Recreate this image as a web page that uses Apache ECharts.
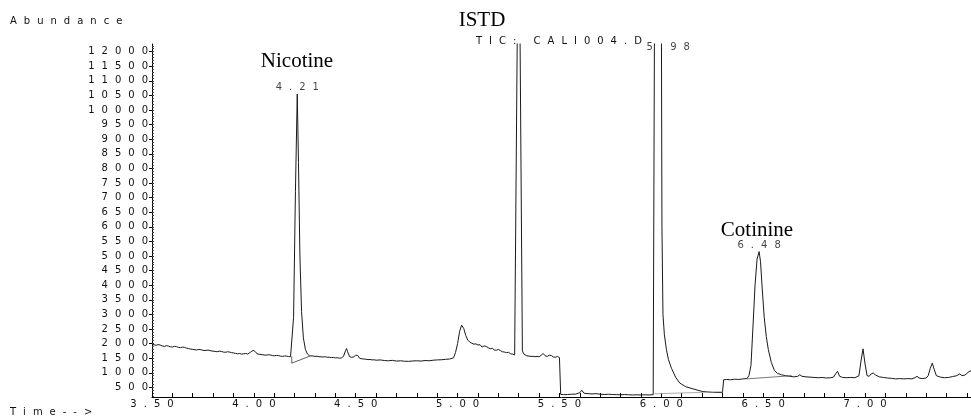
<!DOCTYPE html>
<html>
<head>
<meta charset="utf-8" />
<title>TIC: CALI004.D</title>
<script src="https://cdn.jsdelivr.net/npm/echarts@6/dist/echarts.min.js"></script>
<style>
  html, body { margin: 0; padding: 0; background: #fff; }
  #chart { width: 971px; height: 417px; }
</style>
</head>
<body>
<div id="chart"></div>
<script type="text/javascript">
// axis ranges and labels
var timeMin = 3.5, timeMax = 7.52;
var abundanceMin = 170, abundanceMax = 12260;
var timeLabels = [3.5, 4.0, 4.5, 5.0, 5.5, 6.0, 6.5, 7.0];
var abundanceLabels = [500, 1000, 1500, 2000, 2500, 3000, 3500, 4000, 4500, 5000, 5500, 6000,
  6500, 7000, 7500, 8000, 8500, 9000, 9500, 10000, 10500, 11000, 11500, 12000];

// TIC trace, [retention time (min), abundance]
var baselineEarly = [[3.50,1980],[3.51,1960],[3.52,1940],[3.53,1965],[3.54,1950],[3.55,1920],[3.56,1900],
  [3.57,1930],[3.58,1915],[3.59,1890],[3.60,1880],[3.61,1905],[3.62,1895],[3.63,1870],[3.64,1860],
  [3.65,1880],[3.66,1870],[3.67,1840],[3.68,1830],[3.69,1810],[3.70,1800],[3.71,1790],[3.72,1780],
  [3.73,1800],[3.74,1790],[3.75,1770],[3.76,1760],[3.77,1775],[3.78,1770],[3.79,1750],[3.80,1740],
  [3.81,1730],[3.82,1720],[3.83,1740],[3.84,1730],[3.85,1710],[3.86,1700],[3.87,1720],[3.88,1710],
  [3.89,1690],[3.90,1680],[3.91,1665],[3.92,1650],[3.93,1660],[3.94,1640],[3.95,1650],[3.96,1660],
  [3.97,1640],[3.98,1690],[3.99,1740],[4.00,1770],[4.01,1690],[4.02,1640],[4.03,1630],[4.04,1620],
  [4.05,1610],[4.06,1600],[4.07,1620],[4.08,1610],[4.09,1590],[4.10,1580],[4.11,1595],[4.12,1590],
  [4.13,1570],[4.14,1560],[4.15,1575],[4.16,1570],[4.17,1555],[4.18,1550]];
var nicotinePeak = [[4.186,1560],[4.195,2900],[4.204,7200],[4.213,10550],[4.219,8200],[4.226,5000],
  [4.234,3100],[4.243,2200],[4.253,1800],[4.263,1640],[4.273,1580]];
var baselineMid = [[4.28,1570],[4.29,1575],[4.30,1560],[4.31,1565],[4.32,1550],[4.33,1545],[4.34,1540],
  [4.35,1550],[4.36,1530],[4.37,1535],[4.38,1520],[4.39,1525],[4.40,1510],[4.41,1515],[4.42,1500],
  [4.43,1510],[4.44,1560],[4.45,1760],[4.455,1830],[4.46,1720],[4.47,1550],[4.48,1530],[4.49,1540],
  [4.50,1600],[4.505,1640],[4.51,1590],[4.52,1490],[4.53,1480],[4.54,1470],[4.55,1465],[4.56,1450],
  [4.57,1455],[4.58,1440],[4.59,1445],[4.60,1430],[4.62,1440],[4.64,1420],[4.66,1410],[4.68,1425],
  [4.70,1400],[4.72,1410],[4.74,1395],[4.76,1390],[4.78,1405],[4.80,1410],[4.82,1400],[4.84,1420],
  [4.86,1410],[4.88,1430],[4.90,1440],[4.92,1445],[4.94,1460],[4.96,1470],[4.98,1510],[4.99,1700],
  [5.00,2000],[5.01,2420],[5.02,2630],[5.03,2520],[5.04,2280],[5.05,2120],[5.06,2050],[5.07,2010],
  [5.08,1980],[5.09,1990],[5.10,1950],[5.11,1960],[5.12,1880],[5.13,1920],[5.14,1900],[5.15,1860],
  [5.16,1820],[5.17,1840],[5.18,1780],[5.19,1770],[5.20,1800],[5.21,1760],[5.22,1720],[5.23,1710],
  [5.24,1690],[5.25,1700],[5.26,1650],[5.27,1640],[5.28,1610]];
var istdPeak = [[5.283,1620],[5.300,18600],[5.318,1750],[5.325,1640]];
var baselineLate = [[5.33,1600],[5.34,1580],[5.35,1570],[5.36,1560],[5.37,1565],[5.38,1550],[5.39,1560],
  [5.40,1545],[5.41,1600],[5.42,1660],[5.43,1580],[5.44,1560],[5.45,1600],[5.46,1590],[5.47,1540],
  [5.48,1530],[5.49,1560],[5.50,1520],[5.504,1500],[5.506,260],[5.52,250],[5.54,255],[5.56,265],
  [5.58,270],[5.60,320],[5.61,400],[5.62,300],[5.64,285],[5.66,275],[5.68,285],[5.70,265],[5.72,255],
  [5.74,265],[5.76,255],[5.78,250],[5.80,245],[5.82,255],[5.84,245],[5.86,240],[5.88,245],[5.90,240],
  [5.92,245],[5.94,240],[5.96,250]];
var peak598 = [[5.964,260],[5.975,30000],[6.000,14000],[6.003,6000],[6.008,3000],[6.015,2300],
  [6.025,1800],[6.035,1450],[6.05,1150],[6.07,850],[6.09,650],[6.12,520],[6.16,440],[6.20,360],
  [6.25,330],[6.30,320],[6.304,320]];
var cotinineRegion = [[6.306,760],[6.32,770],[6.34,760],[6.36,780],[6.38,770],[6.40,790],[6.42,800],
  [6.43,900],[6.44,1250],[6.45,2600],[6.46,4000],[6.47,4900],[6.48,5150],[6.487,4800],[6.495,3900],
  [6.505,2900],[6.515,2250],[6.525,1800],[6.54,1350],[6.555,1080],[6.57,980],[6.59,930],[6.61,900],
  [6.63,880],[6.65,860],[6.67,880],[6.68,930],[6.69,880],[6.71,860],[6.73,850],[6.75,840],[6.77,830],
  [6.79,840],[6.81,820],[6.83,830],[6.845,850],[6.855,960],[6.865,1050],[6.875,880],[6.89,840],
  [6.91,830],[6.93,840],[6.95,830],[6.97,900],[6.98,1400],[6.99,1820],[7.00,1300],[7.01,900],
  [7.02,880],[7.03,960],[7.04,990],[7.05,930],[7.07,860],[7.09,840],[7.11,820],[7.13,810],[7.15,790],
  [7.17,800],[7.19,790],[7.21,800],[7.23,790],[7.245,830],[7.255,880],[7.265,820],[7.28,800],
  [7.30,820],[7.31,900],[7.32,1150],[7.33,1330],[7.34,1100],[7.35,900],[7.37,850],[7.39,830],
  [7.41,840],[7.43,870],[7.45,900],[7.465,960],[7.475,900],[7.49,920],[7.50,980],[7.51,1040],[7.52,1070]];

// integration baselines drawn by the data system
var nicotineBase = [[4.186,1560],[4.186,1330],[4.275,1570]];
var peak598Base = [[5.966,280],[6.30,350]];
var cotinineBase = [[6.42,790],[6.64,900]];

// peak retention time tags
var peakTimes = [4.213, 5.975, 6.48];
var peakTags = ['4.21', '5.98', '6.48'];
var peakTops = [10550, 12260, 5150];

// the printout uses a wide, letter-spaced plotter font
function spaced(s) {
  return String(s).split('').join('\u2002\u2009');
}

var ticTrace = [].concat(baselineEarly, nicotinePeak, baselineMid, istdPeak, baselineLate, peak598, cotinineRegion);

var timeTicks = [];
for (var i = 0; i <= 40; i++) timeTicks.push(Math.round((3.5 + i * 0.1) * 10) / 10);
var minorAbundanceTicks = [];
for (var v = 200; v <= 12200; v += 100) minorAbundanceTicks.push(v);

var smallFont = 'DejaVu Sans';
var serifFont = 'Liberation Serif';
var smallSize = 10;
var textColor = '#111';

var chart = echarts.init(document.getElementById('chart'));
var option = {
  animation: false,
  backgroundColor: '#fff',
  grid: { left: 152, right: 0, top: 44, bottom: 20 },
  xAxis: {
    type: 'value',
    min: timeMin,
    max: timeMax,
    axisLine: { lineStyle: { color: '#000', width: 1 } },
    axisTick: { inside: true, length: 4, customValues: timeTicks, lineStyle: { color: '#000' } },
    axisLabel: {
      customValues: timeLabels,
      formatter: function (v) { return spaced(v.toFixed(2)); },
      fontSize: smallSize, fontFamily: smallFont, color: textColor, margin: 2
    },
    splitLine: { show: false }
  },
  yAxis: [{
    type: 'value',
    min: abundanceMin,
    max: abundanceMax,
    axisLine: { show: true, lineStyle: { color: '#000', width: 1 } },
    axisTick: { show: true, length: 3, customValues: abundanceLabels, lineStyle: { color: '#000' } },
    axisLabel: {
      customValues: abundanceLabels,
      formatter: function (v) { return spaced(v); },
      fontSize: smallSize, fontFamily: smallFont, color: textColor, margin: 4
    },
    splitLine: { show: false }
  }, {
    type: 'value',
    position: 'left',
    min: abundanceMin,
    max: abundanceMax,
    axisLine: { show: false },
    axisTick: { show: true, inside: true, length: 2, customValues: minorAbundanceTicks, lineStyle: { color: '#444' } },
    axisLabel: { show: false },
    splitLine: { show: false }
  }],
  series: [{
    name: 'TIC',
    type: 'line',
    data: ticTrace,
    showSymbol: false,
    clip: true,
    lineStyle: { color: '#1a1a1a', width: 1 }
  }, {
    type: 'line', data: nicotineBase, showSymbol: false,
    lineStyle: { color: '#333', width: 0.8 }
  }, {
    type: 'line', data: peak598Base, showSymbol: false,
    lineStyle: { color: '#999', width: 0.8 }
  }, {
    type: 'line', data: cotinineBase, showSymbol: false,
    lineStyle: { color: '#555', width: 0.8 }
  }, {
    type: 'scatter',
    symbolSize: 1,
    itemStyle: { color: 'rgba(0,0,0,0)' },
    clip: false,
    data: peakTimes.map(function (t, i) {
      var item = { value: [t, peakTops[i]], name: peakTags[i] };
      if (i === 1) item.label = { position: 'bottom', distance: 0, offset: [12, -2] };
      return item;
    }),
    label: {
      show: true,
      position: 'top',
      distance: 1,
      formatter: function (p) { return spaced(p.name); },
      fontSize: smallSize, fontFamily: smallFont, color: textColor
    }
  }],
  graphic: [
    { type: 'text', x: 10, y: 21, style: { text: spaced('Abundance'), fontSize: smallSize, fontFamily: smallFont, fill: textColor, align: 'left', verticalAlign: 'middle' } },
    { type: 'text', x: 10, y: 412, style: { text: spaced('Time-->'), fontSize: smallSize, fontFamily: smallFont, fill: textColor, align: 'left', verticalAlign: 'middle' } },
    { type: 'text', x: 476, y: 41, style: { text: spaced('TIC: CALI004.D'), fontSize: smallSize, fontFamily: smallFont, fill: textColor, align: 'left', verticalAlign: 'middle' } },
    { type: 'text', x: 297, y: 61, style: { text: 'Nicotine', fontSize: 21, fontFamily: serifFont, fill: '#000', align: 'center', verticalAlign: 'middle' } },
    { type: 'text', x: 482, y: 20, style: { text: 'ISTD', fontSize: 21, fontFamily: serifFont, fill: '#000', align: 'center', verticalAlign: 'middle' } },
    { type: 'text', x: 757, y: 230, style: { text: 'Cotinine', fontSize: 21, fontFamily: serifFont, fill: '#000', align: 'center', verticalAlign: 'middle' } }
  ]
};
chart.setOption(option);
</script>
</body>
</html>
